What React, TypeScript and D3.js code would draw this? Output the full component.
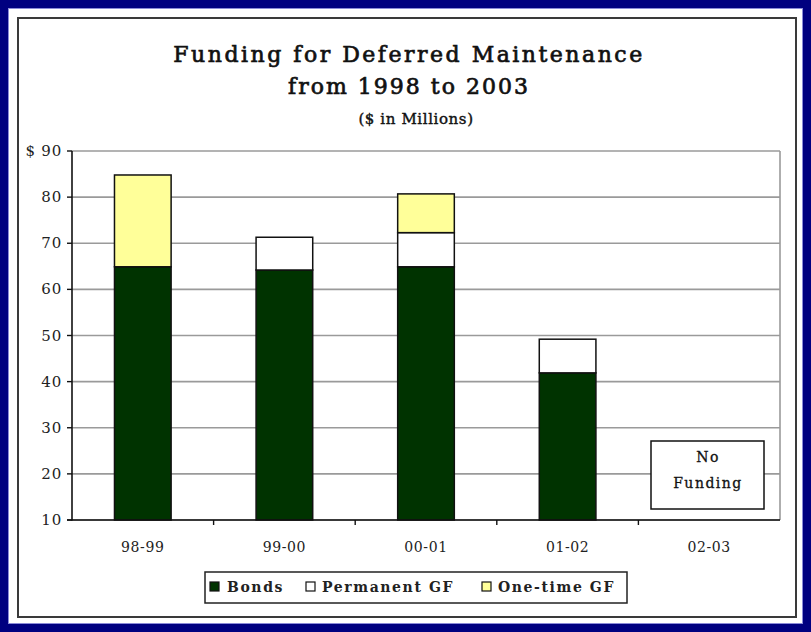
import React from "react";
import * as d3 from "d3";

const categories = ["98-99", "99-00", "00-01", "01-02", "02-03"];
const bonds = [64.9, 64.2, 64.9, 41.9, 0];
const permanentGF = [0, 7.1, 7.4, 7.3, 0];
const oneTimeGF = [19.9, 0, 8.4, 0, 0];
const seriesNames = ["Bonds", "Permanent GF", "One-time GF"];
const seriesColors = ["#003300", "#ffffff", "#ffff99"];
const yTicks = [10, 20, 30, 40, 50, 60, 70, 80, 90];

const W = 811;
const H = 632;
const plot = { left: 72, right: 780, top: 151, bottom: 520 };
const serif = "'DejaVu Serif', 'Liberation Serif', serif";

export default function App() {
  const x = d3
    .scaleBand<string>()
    .domain(categories)
    .range([plot.left, plot.right])
    .paddingInner(0.6)
    .paddingOuter(0.3);
  const y = d3.scaleLinear().domain([10, 90]).range([plot.bottom, plot.top]);

  const rows = categories.map((c, i) => ({
    cat: c,
    Bonds: bonds[i],
    "Permanent GF": permanentGF[i],
    "One-time GF": oneTimeGF[i],
  }));
  const stacked = d3.stack<any>().keys(seriesNames)(rows);
  const step = x.step();
  const outer = x.paddingOuter() * step;
  const boundaries = d3.range(1, categories.length).map(
    (i) => plot.left + outer - (step - x.bandwidth()) / 2 + i * step
  );

  const legendItems = [
    { name: "Bonds", sx: 210, tx: 227 },
    { name: "Permanent GF", sx: 306, tx: 322 },
    { name: "One-time GF", sx: 482, tx: 498 },
  ];

  return (
    <svg
      width={W}
      height={H}
      style={{ position: "absolute", left: 0, top: 0, background: "#fff" }}
    >
      {/* outer frame */}
      <rect x={4} y={4} width={W - 8} height={H - 8} fill="none" stroke="#000080" strokeWidth={8} />
      <rect x={8.5} y={8.5} width={W - 17} height={H - 17} fill="none" stroke="#8a8ad8" strokeWidth={1} />
      <rect x={18} y={18} width={778} height={599} fill="#fff" stroke="#3a3a3a" strokeWidth={2} />

      {/* title */}
      <g fontFamily={serif} textAnchor="middle" fill="#111" stroke="#111" strokeWidth={0.7}>
        <text x={409} y={62} fontSize={22} letterSpacing={2.5}>
          Funding for Deferred Maintenance
        </text>
        <text x={409} y={94} fontSize={22} letterSpacing={2}>
          from 1998 to 2003
        </text>
        <text x={416} y={124} fontSize={15} letterSpacing={0.6} strokeWidth={0.4}>
          ($ in Millions)
        </text>
      </g>

      {/* plot border & gridlines */}
      {yTicks.map((t) => (
        <line
          key={t}
          x1={plot.left}
          x2={plot.right}
          y1={y(t)}
          y2={y(t)}
          stroke="#9a9a9a"
          strokeWidth={1.6}
        />
      ))}
      <line x1={plot.right} x2={plot.right} y1={plot.top} y2={plot.bottom} stroke="#9a9a9a" strokeWidth={1.6} />

      {/* bars */}
      {stacked.map((s, si) =>
        s.map((d, i) =>
          d[1] - d[0] > 0 ? (
            <rect
              key={`${si}-${i}`}
              x={x(categories[i])}
              width={x.bandwidth()}
              y={y(d[1])}
              height={y(Math.max(d[0], 10)) - y(d[1])}
              fill={seriesColors[si]}
              stroke="#111"
              strokeWidth={1.5}
            />
          ) : null
        )
      )}

      {/* axes */}
      <line x1={plot.left} x2={plot.left} y1={plot.top} y2={plot.bottom + 0.5} stroke="#111" strokeWidth={1.6} />
      <line x1={plot.left - 5} x2={plot.right} y1={plot.bottom} y2={plot.bottom} stroke="#111" strokeWidth={1.6} />
      {yTicks.map((t) => (
        <line key={t} x1={plot.left - 5} x2={plot.left} y1={y(t)} y2={y(t)} stroke="#111" strokeWidth={1.4} />
      ))}
      {boundaries.map((b, i) => (
        <line key={i} x1={b} x2={b} y1={plot.bottom} y2={plot.bottom + 5} stroke="#111" strokeWidth={1.4} />
      ))}

      <g fontFamily={serif} fontSize={15} fill="#222" textAnchor="end" letterSpacing={0.8}>
        {yTicks.map((t) => (
          <text key={t} x={plot.left - 10} y={y(t) + 5}>
            {t === 90 ? "$ 90" : t}
          </text>
        ))}
      </g>
      <g fontFamily={serif} fontSize={14} fill="#222" textAnchor="middle" letterSpacing={0.6}>
        {categories.map((c) => (
          <text key={c} x={(x(c) as number) + x.bandwidth() / 2} y={552}>
            {c}
          </text>
        ))}
      </g>

      {/* No Funding box */}
      <rect x={651} y={441} width={113} height={68} fill="#fff" stroke="#111" strokeWidth={1.5} />
      <g fontFamily={serif} fontSize={14} fill="#111" textAnchor="middle" stroke="#111" strokeWidth={0.3} letterSpacing={1.5}>
        <text x={708} y={462}>No</text>
        <text x={708} y={488}>Funding</text>
      </g>

      {/* legend */}
      <rect x={205} y={572} width={422} height={31} fill="#fff" stroke="#222" strokeWidth={1.5} />
      {legendItems.map((it, i) => (
        <g key={it.name}>
          <rect x={it.sx} y={582} width={9} height={9} fill={seriesColors[i]} stroke="#111" strokeWidth={1.2} />
          <text
            x={it.tx}
            y={592}
            fontFamily={serif}
            fontSize={14}
            fontWeight="bold"
            letterSpacing={1.6}
            fill="#222"
          >
            {it.name}
          </text>
        </g>
      ))}
    </svg>
  );
}
